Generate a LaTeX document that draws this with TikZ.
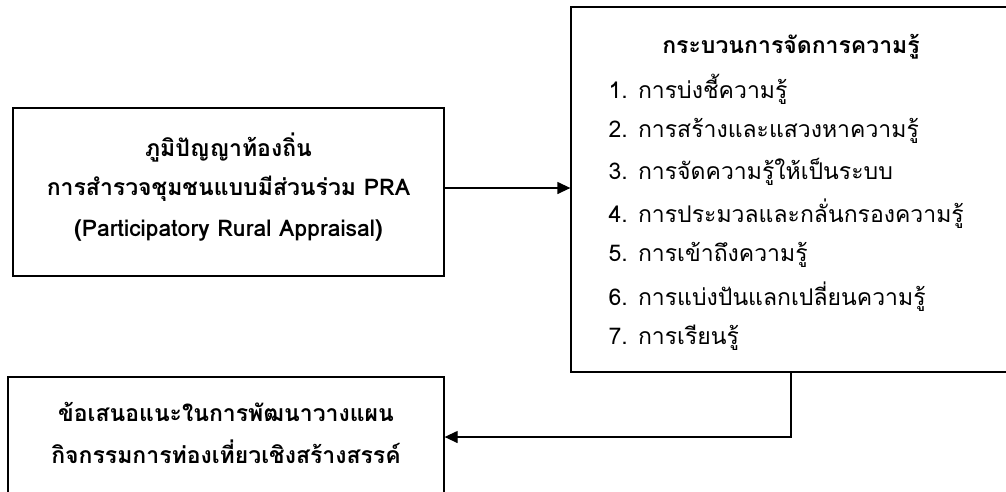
\documentclass[tikz,border=0pt]{standalone}
\usepackage{fontspec}
\setmainfont[Script=Thai]{Loma}
\usetikzlibrary{arrows.meta}
\tikzset{
  kbox/.style={draw,line width=1.3pt,rectangle,inner sep=0pt},
  kline/.style={line width=1.3pt,-{Triangle[length=13pt,width=12pt]}},
  ktext/.style={font=\fontsize{23}{23}\selectfont},
  kbold/.style={font=\fontsize{23}{23}\selectfont\bfseries},
}
\begin{document}
\begin{tikzpicture}[x=1pt,y=-1pt]
\clip (0,0) rectangle (1006,491);
\fill[white] (0,0) rectangle (1006,491);
% boxes
\node[kbox,minimum width=431pt,minimum height=168pt] (wisdom) at (228.5,192) {};
\node[kbox,minimum width=440pt,minimum height=365pt] (kmproc) at (791,189.5) {};
\node[kbox,minimum width=436pt,minimum height=130pt] (suggest) at (226,442) {};
% left box text
\node[kbold] (w1) at (228.5,147) {ภูมิปัญญาท้องถิ่น};
\node[kbold] (w2) at (228.5,189) {การสำรวจชุมชนแบบมีส่วนร่วม PRA};
\node[kbold] (w3) at (228.5,231) {(Participatory Rural Appraisal)};
% right box text
\node[kbold] (kmtitle) at (791,47) {กระบวนการจัดการความรู้};
\foreach \i/\t in {1/การบ่งชี้ความรู้,2/การสร้างและแสวงหาความรู้,3/การจัดความรู้ให้เป็นระบบ,
  4/การประมวลและกลั่นกรองความรู้,5/การเข้าถึงความรู้,6/การแบ่งปันแลกเปลี่ยนความรู้,7/การเรียนรู้}
\node[ktext,anchor=west] (km\i) at (605,{89+41.5*(\i-1)}) {\i. \t};
% bottom box text
\node[kbold] (s1) at (226,412) {ข้อเสนอแนะในการพัฒนาวางแผน};
\node[kbold] (s2) at (226,452) {กิจกรรมการท่องเที่ยวเชิงสร้างสรรค์};
% connectors
\draw[kline] (wisdom.east |- 0,188) -- (kmproc.west |- 0,188);
\coordinate (turn) at (791,437);
\draw[kline] (kmproc.south) -- (turn) -- (suggest.east |- turn);
\end{tikzpicture}
\end{document}
